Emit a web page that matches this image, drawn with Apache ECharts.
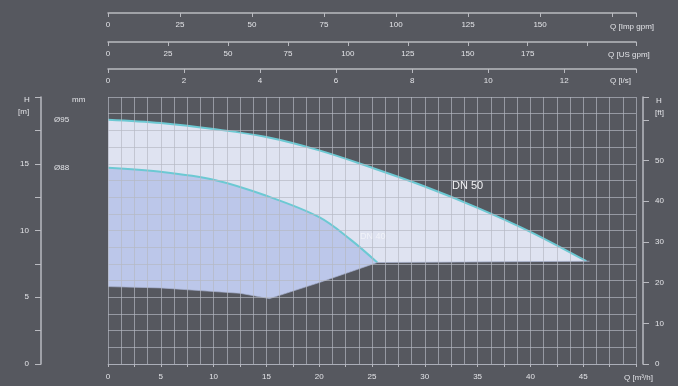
<!DOCTYPE html>
<html>
<head>
<meta charset="utf-8">
<script src="https://cdn.jsdelivr.net/npm/echarts@6/dist/echarts.min.js"></script>
<style>
html,body{margin:0;padding:0;background:#56585f;}
#c{width:678px;height:386px;}
</style>
</head>
<body>
<div id="c"></div>
<script>
// ---- data ----
const qMax = 50;            // m3/h
const hMax = 20;            // m
const qTickLabels = [0, 5, 10, 15, 20, 25, 30, 35, 40, 45];
const hTickLabels = [0, 5, 10, 15];
const ftTickLabels = [0, 10, 20, 30, 40, 50];
const impGpmTickLabels = [0, 25, 50, 75, 100, 125, 150];
const usGpmTickLabels = [0, 25, 50, 75, 100, 125, 150, 175];
const lsTickLabels = [0, 2, 4, 6, 8, 10, 12];

// DN 50 (outer curve)
const outerQ = [0, 5, 10, 15, 20, 25, 30, 35, 40, 45.3];
const outerH = [18.3, 18.05, 17.6, 17.0, 16.0, 14.7, 13.3, 11.7, 9.9, 7.7];
// DN 40 (inner curve)
const innerQ = [0, 5, 10, 15, 20, 23, 25.5];
const innerH = [14.7, 14.4, 13.8, 12.6, 11.0, 9.3, 7.6];
// lower limit of the operating range
const lowQ = [0, 5, 8.7, 12.5, 15.3, 20, 25.5, 45.6];
const lowH = [5.8, 5.7, 5.5, 5.3, 4.9, 6.1, 7.6, 7.7];

// ---- styling ----
const BG = '#56585f';
const TXT = '#e2e3e7';
const AXL = '#b9bac0';
const GRID = 'rgba(182,184,194,0.68)';
const FONT = 'Liberation Sans, Arial, sans-serif';
const CURVE = '#6cc9d3';

const impGpmMax = qMax * 1000 / 60 / 4.54609;
const usGpmMax = qMax * 1000 / 60 / 3.785411784;
const lsMax = qMax / 3.6;
const ftMax = hMax / 0.3048;

function pick(list) {
  return function (v) {
    for (const t of list) { if (Math.abs(t - v) < 1e-6) return String(t); }
    return '';
  };
}
function zip(a, b) { return a.map((x, i) => [x, b[i]]); }

function topAxis(max, interval, labels, offset) {
  return {
    type: 'value', position: 'top', offset: offset, min: 0, max: max, interval: interval,
    gridIndex: 0,
    axisLine: { show: true, onZero: false, lineStyle: { color: AXL, width: 1.5 } },
    axisTick: { show: true, inside: true, length: 4, lineStyle: { color: AXL } },
    axisLabel: { show: true, inside: true, margin: 8, color: TXT, fontSize: 8, fontFamily: FONT, formatter: pick(labels) },
    splitLine: { show: false }
  };
}

const chart = echarts.init(document.getElementById('c'), null, { renderer: 'canvas' });
const txt = (x, y, t, opt) => Object.assign({
  type: 'text', x: x, y: y,
  style: { text: t, fill: TXT, font: '8px ' + FONT, textAlign: 'left', textVerticalAlign: 'middle' }
}, opt || {});

chart.setOption({
  backgroundColor: BG,
  animation: false,
  grid: { left: 108, right: 42, top: 97, bottom: 22 },
  xAxis: [
    { // grid lines
      type: 'value', min: 0, max: qMax, interval: 1.25, z: 5,
      axisLine: { show: true, onZero: false, lineStyle: { color: GRID } },
      axisTick: { show: false }, axisLabel: { show: false },
      splitLine: { show: true, lineStyle: { color: GRID, width: 1 } }
    },
    { // bottom scale
      type: 'value', position: 'bottom', min: 0, max: qMax, interval: 2.5,
      axisLine: { show: false }, axisTick: { show: true, length: 3, lineStyle: { color: AXL } },
      axisLabel: { show: true, margin: 9, color: TXT, fontSize: 8, fontFamily: FONT, formatter: pick(qTickLabels) },
      splitLine: { show: false }
    },
    topAxis(impGpmMax, 25, impGpmTickLabels, 84),
    topAxis(usGpmMax, 25, usGpmTickLabels, 55),
    topAxis(lsMax, 2, lsTickLabels, 28)
  ],
  yAxis: [
    { // grid lines
      type: 'value', min: 0, max: hMax, interval: 1.25, z: 5,
      axisLine: { show: false }, axisTick: { show: false }, axisLabel: { show: false },
      splitLine: { show: true, lineStyle: { color: GRID, width: 1 } }
    },
    { // H [m]
      type: 'value', position: 'left', offset: 67, min: 0, max: hMax, interval: 2.5,
      axisLine: { show: true, onZero: false, lineStyle: { color: AXL, width: 1.5 } },
      axisTick: { show: true, length: 6, lineStyle: { color: AXL } },
      axisLabel: { show: true, margin: 12, color: TXT, fontSize: 8, fontFamily: FONT, formatter: pick(hTickLabels) },
      splitLine: { show: false }
    },
    { // H [ft]
      type: 'value', position: 'right', offset: 7, min: 0, max: ftMax, interval: 10,
      axisLine: { show: true, onZero: false, lineStyle: { color: AXL, width: 1.5 } },
      axisTick: { show: true, length: 6, lineStyle: { color: AXL } },
      axisLabel: { show: true, margin: 12, color: TXT, fontSize: 8, fontFamily: FONT, formatter: pick(ftTickLabels) },
      splitLine: { show: false }
    }
  ],
  series: [
    {
      name: 'DN 50', type: 'line', xAxisIndex: 0, yAxisIndex: 0, data: zip(outerQ, outerH),
      smooth: 0.35, symbol: 'none', z: 2,
      lineStyle: { color: CURVE, width: 2 },
      areaStyle: { color: '#dfe3f1', opacity: 1, origin: 'start' }
    },
    {
      name: 'DN 40', type: 'line', xAxisIndex: 0, yAxisIndex: 0, data: zip(innerQ, innerH),
      smooth: 0.35, symbol: 'none', z: 3,
      lineStyle: { color: CURVE, width: 2 },
      areaStyle: { color: '#bcc7ea', opacity: 1, origin: 'start' }
    },
    {
      name: 'limit', type: 'line', xAxisIndex: 0, yAxisIndex: 0, data: zip(lowQ, lowH),
      smooth: false, symbol: 'none', z: 4,
      lineStyle: { color: 'rgba(170,180,210,0.7)', width: 1 },
      areaStyle: { color: BG, opacity: 1, origin: 'start' }
    }
  ],
  graphic: [
    txt(24, 100, 'H'),
    txt(18, 112, '[m]'),
    txt(72, 100, 'mm'),
    txt(54, 120, 'Ø95'),
    txt(54, 168, 'Ø88'),
    txt(610, 27, 'Q [Imp gpm]'),
    txt(608, 55, 'Q [US gpm]'),
    txt(610, 81, 'Q [l/s]'),
    txt(624, 378, 'Q [m³/h]'),
    txt(656, 101, 'H'),
    txt(655, 113, '[ft]'),
    { type: 'text', x: 452, y: 186, z: 100,
      style: { text: 'DN 50', fill: '#f2f2f4', font: '11px ' + FONT, textVerticalAlign: 'middle' } },
    { type: 'text', x: 360, y: 237, z: 100,
      style: { text: 'DN 40', fill: 'rgba(255,255,255,0.55)', font: '9px ' + FONT, textVerticalAlign: 'middle' } }
  ]
});
</script>
</body>
</html>
